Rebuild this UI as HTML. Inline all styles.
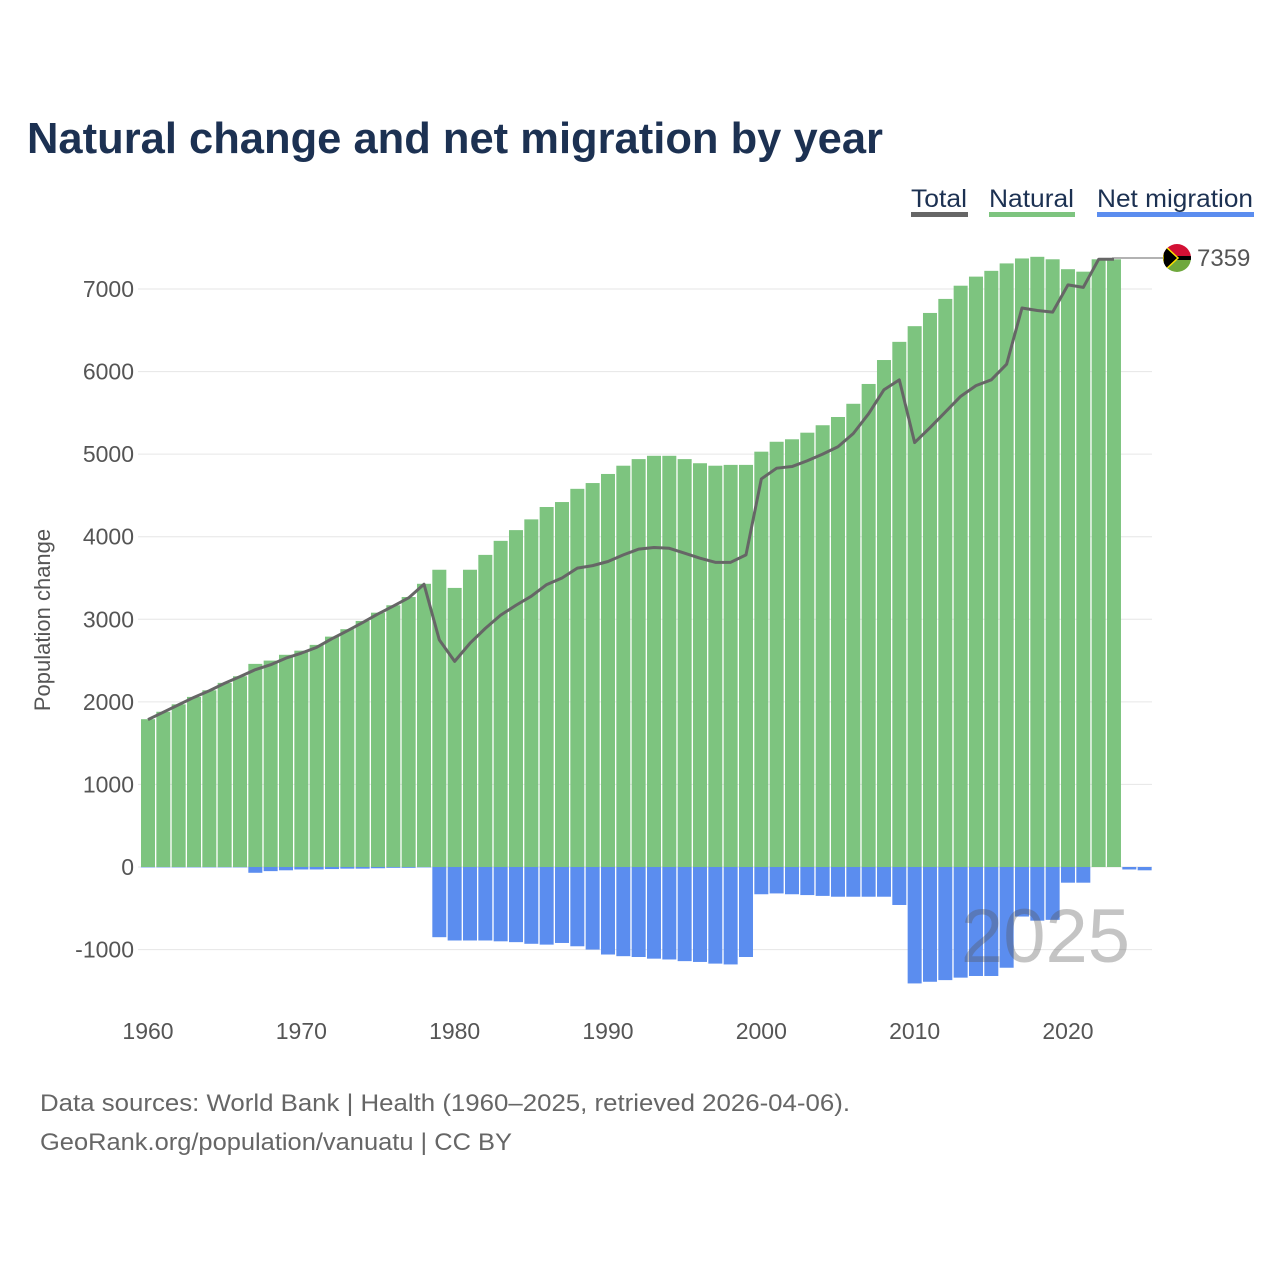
<!DOCTYPE html>
<html><head><meta charset="utf-8"><style>
body{margin:0;background:#fff;width:1280px;height:1280px;overflow:hidden;font-family:"Liberation Sans",sans-serif}
</style></head><body>
<svg width="1280" height="1280" xmlns="http://www.w3.org/2000/svg">
<text x="27" y="153" font-size="44" font-weight="bold" fill="#1c3152" textLength="856" lengthAdjust="spacingAndGlyphs">Natural change and net migration by year</text>
<g font-size="25" fill="#1c3152">
<g><text x="911" y="207" textLength="56" lengthAdjust="spacingAndGlyphs">Total</text><rect x="911" y="212" width="57" height="5" fill="#666"/></g>
<g><text x="989" y="207" textLength="85" lengthAdjust="spacingAndGlyphs">Natural</text><rect x="989" y="212" width="86" height="5" fill="#7dc47f"/></g>
<g><text x="1097" y="207" textLength="156" lengthAdjust="spacingAndGlyphs">Net migration</text><rect x="1097" y="212" width="157" height="5" fill="#5b8def"/></g>
</g>
<g id="grid"></g><g id="bars"></g>
<text x="1130" y="962" font-size="76" fill="#555" fill-opacity="0.35" text-anchor="end">2025</text>
<g id="line"></g><g id="axes" font-size="23" fill="#555"></g>
<text transform="translate(50,620) rotate(-90)" font-size="22" fill="#555" text-anchor="middle">Population change</text>
<g>
<line x1="1112" y1="258" x2="1164" y2="258" stroke="#666" stroke-width="1"/>
<clipPath id="fc"><circle cx="1177" cy="258" r="14"/></clipPath>
<g clip-path="url(#fc)">
<rect x="1163" y="244" width="28" height="14" fill="#d21034"/><rect x="1163" y="258" width="28" height="14" fill="#6fa83d"/>
<rect x="1163" y="256" width="28" height="4" fill="#000"/>
<polygon points="1163,244 1178,258 1163,272" fill="#000" stroke="#fce300" stroke-width="1.5"/>
</g>
<text x="1197" y="266" font-size="24" fill="#555">7359</text>
</g>
<text x="40" y="1111" font-size="24" fill="#666" textLength="810" lengthAdjust="spacingAndGlyphs">Data sources: World Bank | Health (1960–2025, retrieved 2026-04-06).</text>
<text x="40" y="1150" font-size="24" fill="#666" textLength="472" lengthAdjust="spacingAndGlyphs">GeoRank.org/population/vanuatu | CC BY</text>
</svg>
<script>
const years=[];for(let y=1960;y<=2025;y++)years.push(y);
const natural=[1790,1880,1970,2060,2140,2230,2310,2460,2500,2570,2620,2690,2790,2880,2980,3080,3170,3270,3430,3600,3380,3600,3780,3950,4080,4210,4360,4420,4580,4650,4760,4860,4940,4980,4980,4940,4890,4860,4870,4870,5030,5150,5180,5260,5350,5450,5610,5850,6140,6360,6550,6710,6880,7040,7150,7220,7310,7370,7390,7360,7240,7210,7360,7360,0,0];
const migration=[-5,-5,-5,-5,-5,-5,-5,-70,-50,-40,-30,-30,-25,-20,-20,-15,-10,-10,-5,-850,-890,-890,-890,-900,-910,-930,-940,-920,-960,-1000,-1060,-1080,-1090,-1110,-1120,-1140,-1150,-1170,-1180,-1090,-330,-320,-330,-340,-350,-360,-360,-360,-360,-460,-1410,-1390,-1370,-1340,-1320,-1320,-1220,-600,-650,-640,-190,-190,0,0,-30,-40];
const yTicks=[-1000,0,1000,2000,3000,4000,5000,6000,7000];
const xTicks=[1960,1970,1980,1990,2000,2010,2020];
const NS="http://www.w3.org/2000/svg";
const X=y=>148+(y-1960)*15.333, Y=v=>867-v*0.08257;
function mk(t,a,p){const e=document.createElementNS(NS,t);for(const k in a)e.setAttribute(k,a[k]);p.appendChild(e);return e;}
const grid=document.getElementById('grid'),axes=document.getElementById('axes'),bars=document.getElementById('bars'),line=document.getElementById('line');
yTicks.forEach(v=>{const l=mk('line',{x1:138,x2:1152,y1:Y(v),y2:Y(v),stroke:'#e6e6e6','stroke-width':1},grid);


const t=mk('text',{x:134,y:Y(v)+8,'text-anchor':'end'},axes);t.textContent=v;

});
xTicks.forEach(v=>{const t=mk('text',{x:X(v),y:1039,'text-anchor':'middle'},axes);t.textContent=v;

});
years.forEach((yr,i)=>{const w=14;
if(natural[i]>0){const r=mk('rect',{x:X(yr)-w/2,y:Y(natural[i]),width:w,height:Y(0)-Y(natural[i]),fill:'#7dc47f'},bars);

}
if(migration[i]<0){const r=mk('rect',{x:X(yr)-w/2,y:Y(0),width:w,height:Y(migration[i])-Y(0),fill:'#5b8def'},bars);

}});
let pts=[];years.forEach((yr,i)=>{if(natural[i]>0)pts.push(X(yr)+','+Y(natural[i]+migration[i]));});
const pl=mk('polyline',{points:pts.join(' '),fill:'none',stroke:'#666','stroke-width':3,'stroke-linejoin':'round'},line);


</script>
</body></html>
